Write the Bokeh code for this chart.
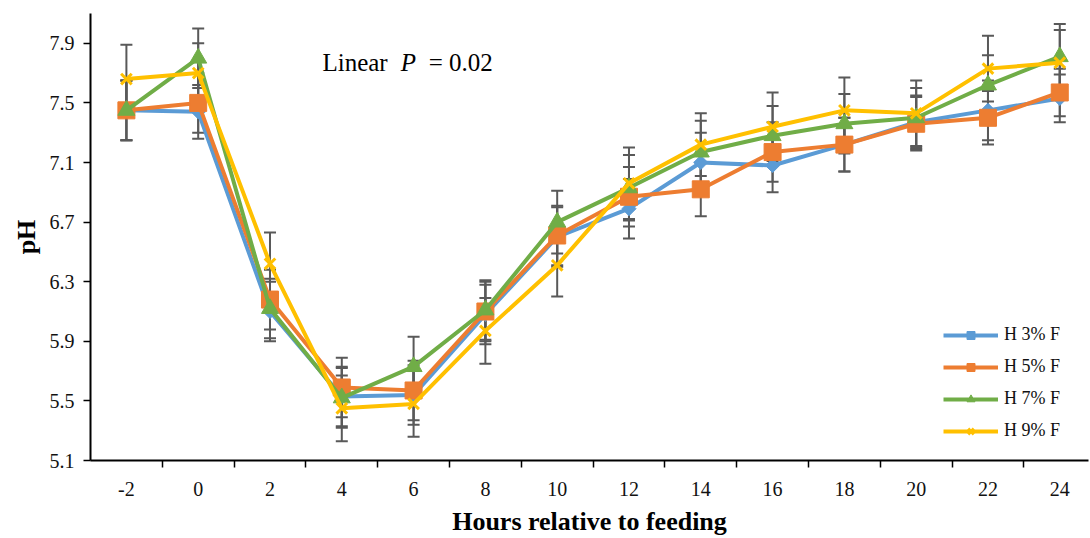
import numpy as np
from bokeh.plotting import figure
from bokeh.models import (Range1d, FixedTicker, ColumnDataSource, Whisker, TeeHead,
                          Legend, LegendItem, Label)
from bokeh.embed import file_html
from bokeh.resources import INLINE

# ---- data ----
hours = [-2, 0, 2, 4, 6, 8, 10, 12, 14, 16, 18, 20, 22, 24]
series_names = ["H 3% F", "H 5% F", "H 7% F", "H 9% F"]
h3 = [7.45, 7.44, 6.10, 5.53, 5.54, 6.08, 6.60, 6.79, 7.10, 7.08, 7.22, 7.37, 7.45, 7.53]
h5 = [7.45, 7.50, 6.18, 5.59, 5.57, 6.10, 6.61, 6.87, 6.92, 7.17, 7.22, 7.36, 7.40, 7.57]
h7 = [7.45, 7.80, 6.12, 5.52, 5.73, 6.11, 6.70, 6.93, 7.17, 7.28, 7.36, 7.40, 7.62, 7.81]
h9 = [7.66, 7.70, 6.42, 5.45, 5.48, 5.97, 6.41, 6.96, 7.22, 7.34, 7.45, 7.43, 7.73, 7.77]
se3 = [0.20, 0.18, 0.20, 0.20, 0.20, 0.20, 0.20, 0.20, 0.20, 0.18, 0.18, 0.18, 0.20, 0.16]
se5 = [0.20, 0.20, 0.20, 0.20, 0.20, 0.20, 0.20, 0.20, 0.18, 0.20, 0.18, 0.18, 0.18, 0.16]
se7 = [0.20, 0.20, 0.20, 0.20, 0.20, 0.20, 0.21, 0.22, 0.21, 0.20, 0.20, 0.20, 0.20, 0.22]
se9 = [0.23, 0.20, 0.21, 0.22, 0.22, 0.22, 0.21, 0.24, 0.21, 0.23, 0.22, 0.22, 0.22, 0.22]
y_ticks = [5.1, 5.5, 5.9, 6.3, 6.7, 7.1, 7.5, 7.9]

FONT = "Liberation Serif, serif"
colors = ["#5B9BD5", "#ED7D31", "#70AD47", "#FFC000"]
markers = ["square", "square", "triangle", "x"]
sizes = [10, 17, 17, 15]
angles = [np.pi / 4, 0, 0, 0]

p = figure(width=1090, height=538, output_backend="svg", toolbar_location=None,
           x_range=Range1d(-3, 24.8), y_range=Range1d(5.1, 8.1),
           min_border_left=90, min_border_right=2, min_border_top=13, min_border_bottom=77)
p.outline_line_color = None
p.xgrid.visible = False
p.ygrid.visible = False

# axes
minor = [h + 1 for h in hours[:-1]]
p.xaxis.ticker = FixedTicker(ticks=hours, minor_ticks=minor)
p.xaxis.major_label_overrides = {h: str(h) for h in hours}
p.xaxis.major_tick_out = 0
p.xaxis.major_tick_in = 0
p.xaxis.minor_tick_out = 7
p.xaxis.minor_tick_in = 0
p.xaxis.minor_tick_line_color = "black"
p.xaxis.minor_tick_line_width = 1.5
p.xaxis.axis_line_width = 2
p.xaxis.axis_line_color = "black"
p.xaxis.major_label_standoff = 14
p.xaxis.axis_label = "Hours relative to feeding"
p.xaxis.axis_label_standoff = 8

p.yaxis.ticker = FixedTicker(ticks=y_ticks, minor_ticks=[])
p.yaxis.major_tick_out = 7
p.yaxis.major_tick_in = 0
p.yaxis.major_tick_line_width = 1.5
p.yaxis.major_tick_line_color = "black"
p.yaxis.axis_line_width = 2
p.yaxis.axis_line_color = "black"
p.yaxis.major_label_standoff = 9
p.yaxis.axis_label = "pH"
p.yaxis.axis_label_standoff = 6

for ax in (p.xaxis, p.yaxis):
    ax.major_label_text_font = FONT
    ax.major_label_text_font_size = "20px"
    ax.major_label_text_color = "#111111"
    ax.axis_label_text_font = FONT
    ax.axis_label_text_font_size = "26px"
    ax.axis_label_text_font_style = "bold"
    ax.axis_label_text_color = "black"

# error bars
all_vals = [h3, h5, h7, h9]
all_se = [se3, se5, se7, se9]
for vals, se in zip(all_vals, all_se):
    src = ColumnDataSource(dict(x=hours,
                                upper=[v + s for v, s in zip(vals, se)],
                                lower=[v - s for v, s in zip(vals, se)]))
    w = Whisker(base="x", upper="upper", lower="lower", source=src,
                line_color="#595959", line_width=2,
                upper_head=TeeHead(size=12, line_color="#595959", line_width=2),
                lower_head=TeeHead(size=12, line_color="#595959", line_width=2))
    p.add_layout(w)

items = []
for name, vals, col, mk, sz, ang in zip(series_names, all_vals, colors, markers, sizes, angles):
    src = ColumnDataSource(dict(x=hours, y=vals))
    lr = p.line("x", "y", source=src, line_color=col, line_width=4)
    if mk == "x":
        sr = p.scatter("x", "y", source=src, marker=mk, size=sz, line_color=col, line_width=3)
    else:
        sr = p.scatter("x", "y", source=src, marker=mk, size=sz, angle=ang,
                       fill_color=col, line_color=col)
    items.append(LegendItem(label=name, renderers=[lr, sr]))

legend = Legend(items=items, location=(853, 19), glyph_width=55, glyph_height=20,
                spacing=11, label_standoff=6, padding=0, margin=0,
                border_line_color=None, background_fill_alpha=0,
                label_text_font=FONT, label_text_font_size="18px", label_text_color="#111111")
p.add_layout(legend)

# annotation text
ty = 7.772
p.add_layout(Label(x=3.46, y=ty, text="Linear", text_font=FONT, text_font_size="25px",
                   text_color="black", text_baseline="alphabetic"))
p.add_layout(Label(x=5.64, y=ty, text="P", text_font=FONT, text_font_size="25px",
                   text_font_style="italic", text_color="black", text_baseline="alphabetic"))
p.add_layout(Label(x=6.42, y=ty, text="= 0.02", text_font=FONT, text_font_size="25px",
                   text_color="black", text_baseline="alphabetic"))

open("out.html", "w").write(file_html(p, INLINE))
